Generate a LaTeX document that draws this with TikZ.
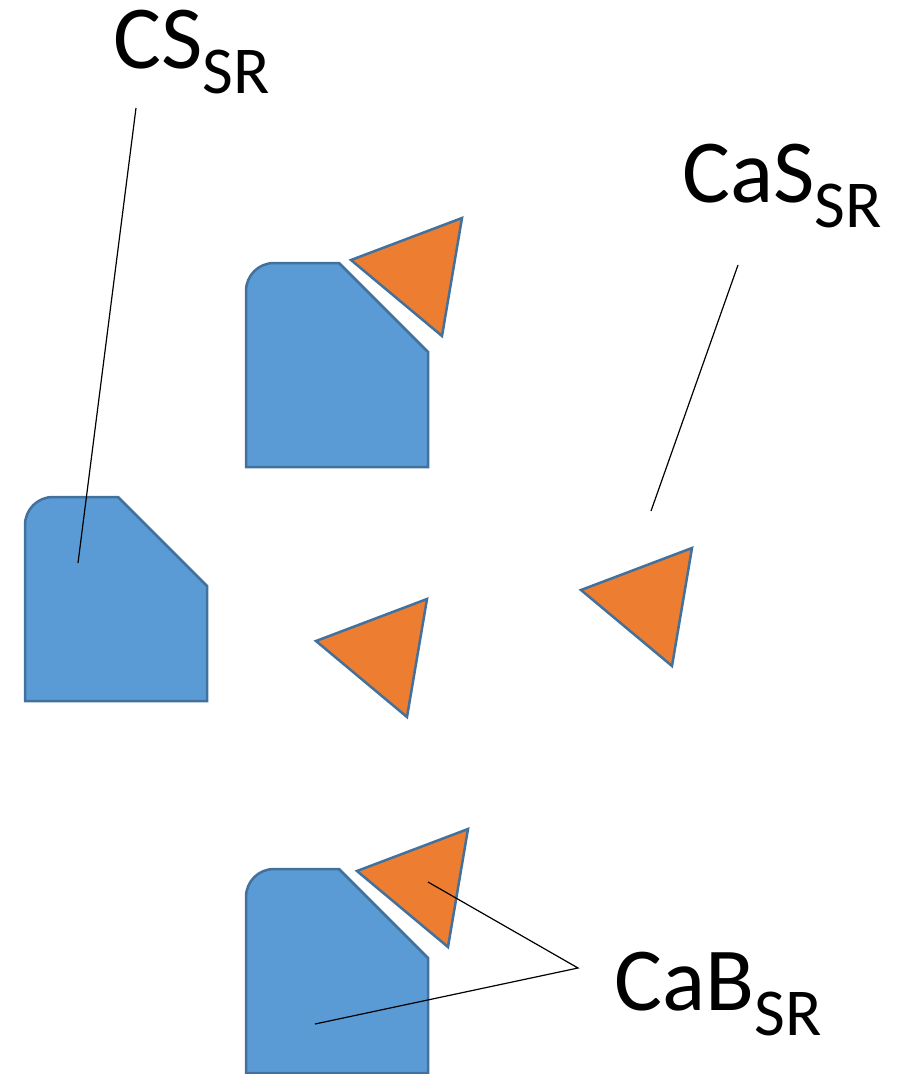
\documentclass[tikz,border=0pt]{standalone}
\usepackage{fontspec}
\setmainfont{Carlito}
\definecolor{bluefill}{HTML}{5B9BD5}
\definecolor{blueline}{HTML}{41719C}
\definecolor{orangefill}{HTML}{ED7D31}
\newcommand{\subsr}{\raisebox{-25pt}{\fontsize{67}{72}\selectfont SR}}
\begin{document}
\begin{tikzpicture}[x=1pt,y=-1pt,
  insertshape/.pic={\filldraw[fill=bluefill,draw=blueline,line width=2.5pt,line join=miter]
     (0,204) -- (0,28) .. controls (0,12.5) and (12.5,0) .. (28,0) -- (93,0) -- (182,89) -- (182,204) -- cycle;},
  chip/.pic={\filldraw[fill=orangefill,draw=blueline,line width=2.5pt,line join=miter]
     (0,0) -- (111,-42) -- (91,76) -- cycle;},
  lbl/.style={font=\fontsize{90}{100}\selectfont, anchor=base west, inner sep=0pt},
  leader/.style={black, line width=1.2pt}]
\useasboundingbox (0,0) rectangle (915,1074);
% blue inserts
\pic at (246,263) {insertshape};
\pic at (25,497) {insertshape};
\pic at (246,869) {insertshape};
% orange chips
\pic at (351,260) {chip};
\pic at (316,641) {chip};
\pic at (581,590) {chip};
\pic at (357,871) {chip};
% labels
\node[lbl] (cs) at (113,68) {CS\subsr};
\node[lbl] (cas) at (682,202) {CaS\subsr};
\node[lbl] (cab) at (614,1010) {CaB\subsr};
% leader lines
\coordinate (csA) at (136,108);
\coordinate (csB) at (78,563);
\coordinate (casA) at (738,265);
\coordinate (casB) at (651,511);
\coordinate (cabA) at (578,968);
\coordinate (cabB) at (428,882);
\coordinate (cabC) at (315,1024);
\draw[leader] (csA) -- (csB);
\draw[leader] (casA) -- (casB);
\draw[leader] (cabB) -- (cabA) -- (cabC);
\end{tikzpicture}
\end{document}
